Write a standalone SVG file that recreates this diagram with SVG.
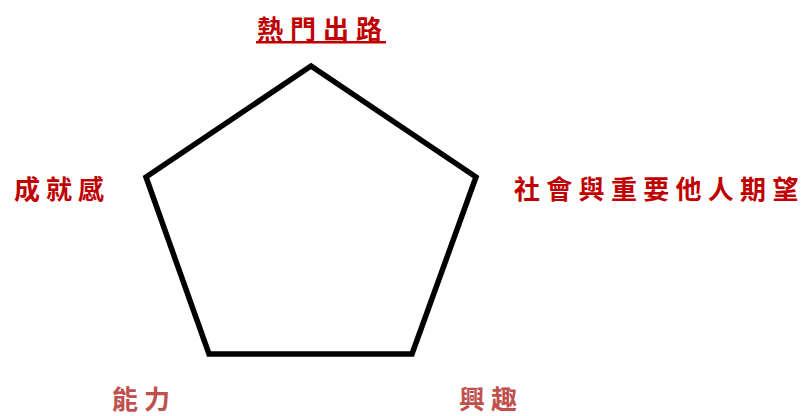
<svg xmlns="http://www.w3.org/2000/svg" width="802" height="416" viewBox="0 0 802 416">
<style>
.lbl{font-family:"Noto Sans CJK TC","Noto Sans CJK SC",sans-serif;font-weight:bold;font-size:26px}
.dark{fill:#c00000}
.light{fill:#c0504d}
</style>
<rect width="802" height="416" fill="#ffffff"/>
<g id="connectors">
<polygon points="311,66 476,177 412,354 209,354 146,177" fill="none" stroke="#000000" stroke-width="5.5" stroke-linejoin="miter"/>
</g>
<g id="node-top"><text class="lbl dark" x="257 290 323 356" y="39">熱門出路</text><rect x="256" y="41" width="130" height="2.5" fill="#c00000"/></g>
<g id="node-left"><text class="lbl dark" x="14 46 78" y="199">成就感</text></g>
<g id="node-right"><text class="lbl dark" x="514 546.3 578.6 610.9 643.2 675.5 707.8 740.1 772.4" y="199">社會與重要他人期望</text></g>
<g id="node-bl"><text class="lbl light" x="112 144" y="409">能力</text></g>
<g id="node-br"><text class="lbl light" x="459 491" y="409">興趣</text></g>
</svg>
